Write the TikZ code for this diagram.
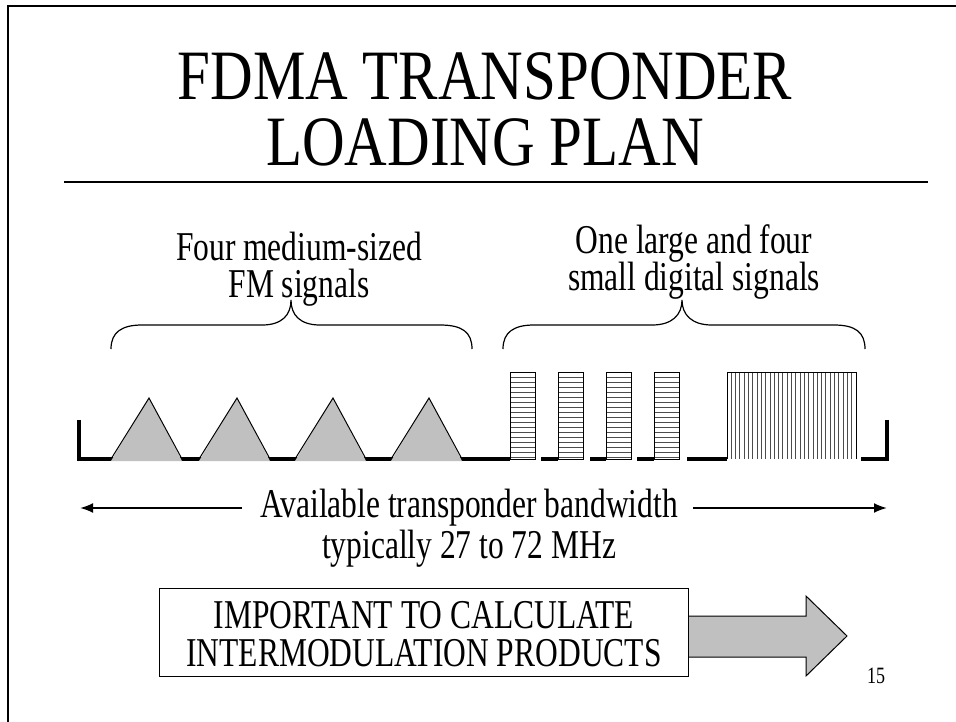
\documentclass[tikz,border=0pt]{standalone}
\usepackage{graphicx}
\usepackage{fontspec}
\setmainfont{Liberation Serif}
\usetikzlibrary{positioning,arrows.meta}

% slide text is stretched upwards a little
\newcommand\tallt[2][1.3]{\scalebox{1}[#1]{#2}}

\definecolor{siggray}{HTML}{C0C0C0}
\tikzset{
  slidetext/.style={font=\fontsize{31.5}{28.5}\selectfont, inner sep=0pt},
  titletext/.style={font=\fontsize{59}{52.5}\selectfont, inner sep=0pt},
  axisline/.style={line width=4pt},
  fmsig/.style={fill=siggray},
  sigedge/.style={line width=1pt},
  hatch/.style={line width=0.9pt, draw=black!70},
  brace/.style={line width=1.2pt},
  bwarrow/.style={line width=2pt, -{Latex[length=13pt,width=10pt]}},
}

\begin{document}
\begin{tikzpicture}[x=1pt,y=-1pt]
\useasboundingbox (0,0) rectangle (956,721);
% slide frame
\draw[line width=2.5pt] (8,730) -- (8,6) -- (965,6);

% title
\node[titletext,anchor=base] (title) at (485,165)
  {\tallt[1.2]{\begin{tabular}[b]{@{}c@{}}FDMA TRANSPONDER\\LOADING PLAN\end{tabular}}};
\draw[line width=2pt] (64,182) -- (928,182);

% labels over the braces
\node[slidetext,anchor=base] (fmtop) at (299,260) {\tallt{Four medium-sized}};
\node[slidetext,anchor=base] (fmbot) at (299,297) {\tallt{FM signals}};
\node[slidetext,anchor=base] (dgtop) at (694,253) {\tallt{One large and four}};
\node[slidetext,anchor=base] (dgbot) at (694,290) {\tallt{small digital signals}};

% braces
\draw[brace] (111,349) .. controls (111,332) and (122,325) .. (142,325) -- (262,325)
  .. controls (282,325) and (291,315) .. (291,300) .. controls (291,315) and (300,325) .. (320,325)
  -- (440,325) .. controls (462,325) and (472,332) .. (472,349);
\draw[brace] (503,349) .. controls (503,332) and (514,325) .. (534,325) -- (652,325)
  .. controls (672,325) and (682,315) .. (682,300) .. controls (682,315) and (692,325) .. (712,325)
  -- (834,325) .. controls (855,325) and (865,332) .. (865,349);

% frequency axis
\draw[axisline] (79,420) -- (79,459) -- (510,459);
\foreach \a/\b in {541/558, 590/606, 637/654, 687/727}
  \draw[axisline] (\a,459) -- (\b,459);
\draw[axisline] (861,459) -- (887,459) -- (887,420);

% FM carriers
\foreach \x in {111,199,295,391} {
  \fill[fmsig] (\x,461) -- (\x+38,398) -- (\x+71,461) -- cycle;
  \draw[sigedge] (\x,459) -- (\x+38,398) -- (\x+71,459);
}

% small digital carriers
\foreach \x in {510,558,606,654} {
  \fill[white] (\x,372) rectangle (\x+25,459);
  \foreach \y in {377,382,...,457}
    \draw[hatch] (\x,\y) -- (\x+25,\y);
  \draw[sigedge] (\x,459) -- (\x,372) -- (\x+25,372) -- (\x+25,459) -- cycle;
}

% large digital carrier
\foreach \x in {731.3,735.6,...,853}
  \draw[hatch] (\x,372) -- (\x,459);
\draw[sigedge] (727,459) -- (727,372) -- (856,372) -- (856,459);

% bandwidth
\coordinate (bwL) at (80,508);
\coordinate (bwR) at (887,508);
\node[slidetext,anchor=base] (bw) at (469,517) {\tallt{Available transponder bandwidth}};
\node[slidetext,anchor=base] (bwval) at (469,558) {\tallt{typically 27 to 72 MHz}};
\draw[bwarrow, shorten <=18pt] (bw.west |- bwL) -- (bwL);
\draw[bwarrow, shorten <=15pt] (bw.east |- bwR) -- (bwR);

% note box and block arrow
\node[draw, line width=1pt, minimum width=529pt, minimum height=88pt, inner sep=0pt,
      text height=52.4pt, text depth=21.6pt, slidetext, anchor=north west] (note) at (159,588)
  {\tallt{\begin{tabular}{@{}c@{}}IMPORTANT TO CALCULATE\\INTERMODULATION PRODUCTS\end{tabular}}};
\filldraw[fill=siggray, line width=1pt] (note.east |- 0,616) -- (806,616) -- (806,596)
  -- (847,636) -- (806,676) -- (806,657) -- (note.east |- 0,657);

\node[font=\fontsize{18}{20}\selectfont, anchor=base] (pagenum) at (876,683) {\tallt{15}};
\end{tikzpicture}
\end{document}
